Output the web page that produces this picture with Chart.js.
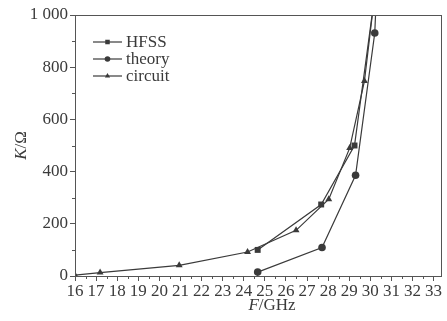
<!DOCTYPE html>
<html>
<head>
<meta charset="utf-8">
<script src="https://cdn.jsdelivr.net/npm/chart.js@4"></script>
<style>
	html, body { margin: 0; padding: 0; background: #fff; }
</style>
</head>
<body>
<canvas id="chart" width="447" height="321"></canvas>
<script>
// values
const xTicks = [16, 17, 18, 19, 20, 21, 22, 23, 24, 25, 26, 27, 28, 29, 30, 31, 32, 33];
const yTicks = [0, 200, 400, 600, 800, 1000];

const hfssF = [24.66, 27.67, 29.25, 30.25];
const hfssK = [100, 274, 500, 1100];

const theoryF = [24.66, 27.71, 29.3, 30.21, 30.3];
const theoryK = [15, 109, 386, 931, 1100];

const circuitF = [16, 17.19, 20.94, 24.18, 26.48, 28.03, 29.02, 29.72, 30.24];
const circuitK = [3, 13, 41, 92, 175, 294, 490, 747, 1100];

const names = ['HFSS', 'theory', 'circuit'];
const styles = ['rect', 'circle', 'triangle'];
const sizes = [4.2, 3.8, 4];

const ink = '#3a3a3a',
	axisInk = '#555',
	serif = '"Liberation Serif", "DejaVu Serif", serif';

const toPoints = (xs, ys) => xs.map((x, i) => ({ x, y: ys[i] }));

const series = [toPoints(hfssF, hfssK), toPoints(theoryF, theoryK), toPoints(circuitF, circuitK)];

const datasets = series.map((data, i) => ({
	label: names[i],
	data,
	borderColor: ink,
	borderWidth: 1.2,
	backgroundColor: ink,
	pointStyle: styles[i],
	pointRadius: sizes[i],
	pointBackgroundColor: ink,
	pointBorderColor: ink,
	pointBorderWidth: 0,
	tension: 0,
}));

// frame, minor ticks, legend and axis titles
const decor = {
	id: 'decor',
	afterDraw(chart) {
		const ctx = chart.ctx,
			a = chart.chartArea,
			sx = chart.scales.x,
			sy = chart.scales.y;

		ctx.save();
		ctx.strokeStyle = axisInk;
		ctx.lineWidth = 1;
		ctx.strokeRect(a.left + 0.5, a.top + 0.5, a.right - a.left, a.bottom - a.top);

		// minor ticks
		ctx.beginPath();
		for (let i = 0; i < xTicks.length; i++) {
			const px = Math.round(sx.getPixelForValue(xTicks[i] + 0.5)) + 0.5;
			if (px > a.right) break;
			ctx.moveTo(px, a.bottom);
			ctx.lineTo(px, a.bottom + 3);
		}
		for (let i = 0; i < yTicks.length - 1; i++) {
			const py = Math.round(sy.getPixelForValue(yTicks[i] + 100)) + 0.5;
			ctx.moveTo(a.left, py);
			ctx.lineTo(a.left - 3, py);
		}
		ctx.stroke();

		// legend
		ctx.font = '17px ' + serif;
		ctx.textBaseline = 'middle';
		ctx.fillStyle = ink;
		names.forEach((name, i) => {
			const y = 42 + i * 17,
				x0 = 93,
				x1 = 122;
			ctx.strokeStyle = ink;
			ctx.lineWidth = 1.2;
			ctx.beginPath();
			ctx.moveTo(x0, y);
			ctx.lineTo(x1, y);
			ctx.stroke();
			Chart.helpers.drawPoint(ctx, { pointStyle: styles[i], radius: sizes[i] - 1, borderWidth: 0 }, (x0 + x1) / 2, y);
			ctx.fillText(name, 126, y + 1);
		});

		// axis titles
		const xt1 = 'F', xt2 = '/GHz';
		ctx.font = 'italic 17px ' + serif;
		const w1 = ctx.measureText(xt1).width;
		ctx.font = '17px ' + serif;
		const w2 = ctx.measureText(xt2).width;
		const cx = 272 - (w1 + w2) / 2;
		ctx.textBaseline = 'alphabetic';
		ctx.textAlign = 'left';
		ctx.font = 'italic 17px ' + serif;
		ctx.fillText(xt1, cx, 310);
		ctx.font = '17px ' + serif;
		ctx.fillText(xt2, cx + w1, 310);

		ctx.translate(26, (a.top + a.bottom) / 2);
		ctx.rotate(-Math.PI / 2);
		ctx.font = 'italic 17px ' + serif;
		const k1 = ctx.measureText('K').width;
		ctx.font = '17px ' + serif;
		const k2 = ctx.measureText('/Ω').width;
		ctx.font = 'italic 17px ' + serif;
		ctx.fillText('K', -(k1 + k2) / 2, 0);
		ctx.font = '17px ' + serif;
		ctx.fillText('/Ω', -(k1 + k2) / 2 + k1, 0);
		ctx.restore();
	},
};

const config = {
	type: 'line',
	data: { datasets },
	options: {
		responsive: false,
		animation: false,
		layout: { padding: { left: 0, top: 15, right: 6, bottom: 0 } },
		plugins: {
			legend: { display: false },
			tooltip: { enabled: false },
		},
		scales: {
			x: {
				type: 'linear',
				min: 16,
				max: 33.35,
				afterFit: (s) => {
					s.height = 45;
					s.paddingLeft = 0;
					s.paddingRight = 0;
				},
				afterBuildTicks: (s) => {
					s.ticks = xTicks.map((v) => ({ value: v }));
				},
				border: { color: axisInk },
				grid: { drawOnChartArea: false, tickLength: 5, color: axisInk },
				ticks: {
					color: ink,
					padding: 0,
					maxRotation: 0,
					autoSkip: false,
					font: { family: serif, size: 17 },
				},
			},
			y: {
				min: 0,
				max: 1000,
				afterFit: (s) => {
					s.width = 75;
					s.paddingTop = 0;
					s.paddingBottom = 0;
				},
				afterBuildTicks: (s) => {
					s.ticks = yTicks.map((v) => ({ value: v }));
				},
				border: { color: axisInk },
				grid: { drawOnChartArea: false, tickLength: 5, color: axisInk },
				ticks: {
					color: ink,
					padding: 2,
					font: { family: serif, size: 17 },
					callback: (v) => (v === 1000 ? '1 000' : v),
				},
			},
		},
	},
	plugins: [decor],
};

new Chart(document.getElementById('chart'), config);
</script>
</body>
</html>
